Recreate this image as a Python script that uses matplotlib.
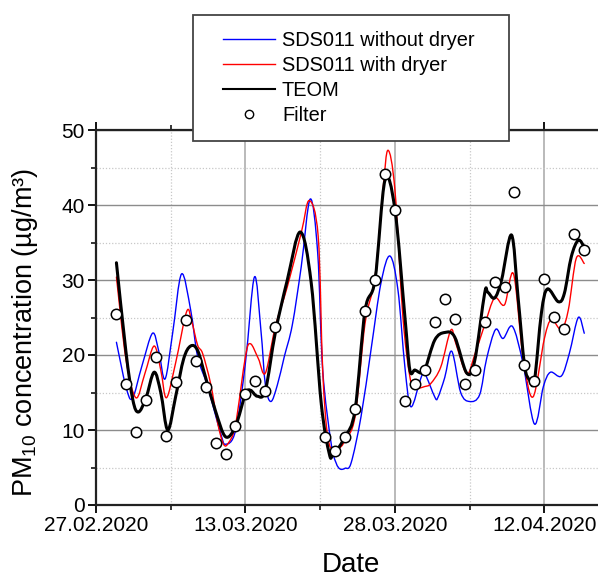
import datetime
import numpy as np
import matplotlib
matplotlib.use("Agg")
import matplotlib.pyplot as plt
import matplotlib.dates as mdates
from matplotlib.patches import Rectangle, PathPatch
from matplotlib.path import Path
from matplotlib.lines import Line2D

plt.rcParams['font.family'] = ['Liberation Sans', 'DejaVu Sans']
plt.rcParams['mathtext.fontset'] = 'custom'
plt.rcParams['mathtext.rm'] = 'Liberation Sans'
plt.rcParams['mathtext.it'] = 'Liberation Sans:italic'

start_date = datetime.date(2020, 2, 27)

# days after 27.02.2020 / PM10 in ug/m3
blue_day = [2.05, 3.0, 3.65, 4.6, 5.67, 6.3, 6.93, 7.7, 8.58, 9.5, 10.2, 11.2, 12.5, 13.0,
            14.0, 15.0, 15.9, 16.55, 17.0, 17.55, 18.2, 18.9, 19.7, 20.6, 21.5, 22.25,
            22.75, 23.6, 24.1, 24.5, 25.0, 25.6, 26.6, 27.6, 28.6, 29.5, 30.3, 31.0, 31.6,
            32.6, 33.0, 34.0, 34.3, 35.0, 35.7, 36.6, 37.5, 38.5, 39.2, 40.1, 40.85, 41.8,
            42.85, 44.0, 44.9, 45.6, 46.7, 47.5, 48.4, 49.0]
blue_val = [21.7, 15.8, 14.2, 18.5, 22.9, 20.5, 16.8, 23.0, 30.8, 26.0, 19.8, 15.8, 9.6, 8.1,
            9.9, 19.0, 30.4, 23.3, 16.0, 13.8, 16.0, 19.8, 24.0, 31.8, 40.8, 33.6,
            18.0, 8.2, 5.6, 4.8, 4.9, 5.6, 11.8, 20.7, 29.6, 33.2, 28.7, 18.4, 13.1,
            16.9, 17.5, 14.4, 14.3, 17.0, 20.5, 15.0, 13.8, 14.7, 19.5, 23.4, 22.2, 23.8,
            18.9, 10.8, 15.8, 17.7, 17.2, 20.2, 25.0, 22.9]

red_day = [2.05, 3.0, 4.0, 4.9, 5.83, 6.5, 7.07, 8.0, 9.1, 9.6, 10.2, 10.7, 11.5, 12.2,
           12.8, 13.3, 14.0, 15.0, 15.5, 16.3, 17.0, 18.0, 19.2, 20.6, 21.4, 22.3, 22.75,
           23.25, 23.9, 24.6, 25.0, 26.0, 27.0, 28.0, 28.8, 29.3, 30.0, 30.8, 31.5, 32.0,
           33.0, 33.6, 34.6, 35.6, 36.1, 37.2, 38.0, 39.0, 40.0, 41.0, 41.9, 42.85, 43.85,
           45.0, 45.7, 46.7, 47.4, 48.2, 49.0]
red_val = [30.4, 19.5, 14.3, 17.5, 21.2, 18.0, 14.3, 19.0, 25.8, 24.5, 21.3, 20.2, 16.2, 11.0,
           8.1, 8.3, 10.7, 19.8, 21.5, 19.5, 17.6, 23.8, 29.1, 36.3, 40.6, 35.8, 18.0,
           9.1, 7.3, 7.8, 8.7, 11.8, 24.2, 30.4, 42.0, 47.3, 42.0, 25.1, 17.1, 15.6,
           15.8, 16.2, 18.4, 23.3, 21.6, 17.5, 20.0, 24.0, 27.6, 26.7, 30.8, 19.8, 14.4,
           22.2, 24.7, 23.4, 26.0, 32.9, 32.2]

teom_day = [2.05, 3.0, 3.7, 4.26, 5.0, 5.83, 6.5, 7.2, 8.0, 8.8, 9.5, 10.2, 11.0, 12.0,
            13.0, 14.0, 15.0, 15.5, 16.2, 17.0, 18.0, 19.2, 20.5, 21.6, 22.6, 23.4, 23.8,
            25.0, 26.0, 27.0, 28.0, 29.0, 30.0, 31.0, 31.5, 32.0, 32.6, 33.0, 34.0, 35.0,
            36.0, 37.2, 38.0, 39.0, 39.3, 40.0, 40.7, 41.7, 42.35, 43.0, 43.5, 44.0, 44.7,
            45.3, 46.4, 47.0, 47.7, 48.4, 49.0]
teom_val = [32.3, 20.5, 14.0, 12.4, 14.2, 17.7, 15.0, 10.0, 14.5, 19.5, 21.2, 20.6, 17.0, 12.5,
            9.1, 10.5, 14.8, 15.3, 14.5, 15.3, 23.0, 30.0, 36.4, 29.6, 13.6, 6.9, 6.7,
            9.1, 12.7, 25.9, 30.0, 43.3, 39.4, 25.1, 18.0, 18.0, 17.6, 18.0, 22.0, 23.0,
            22.4, 17.6, 19.2, 28.2, 28.4, 27.6, 30.0, 36.0, 27.8, 18.7, 16.7, 16.6, 25.6,
            28.8, 27.1, 28.2, 33.1, 35.3, 34.4]

filter_day = list(range(2, 19)) + list(range(23, 50))
filter_val = [25.5, 16.1, 9.7, 14.0, 19.7, 9.2, 16.4, 24.7, 19.2, 15.8, 8.3, 6.8, 10.5,
              14.8, 16.6, 15.2, 23.7,
              9.1, 7.2, 9.1, 12.8, 25.9, 30.0, 44.2, 39.4, 13.9, 16.2, 18.0, 24.4, 27.5,
              24.8, 16.1, 18.0, 24.4, 29.8, 29.1, 41.7, 18.7, 16.6, 30.2, 25.1, 23.5,
              36.1, 34.0]

tick_days = [0, 15, 30, 45]
minor_days = [7.5, 22.5, 37.5]

base = mdates.date2num(start_date)


def to_x(days):
    return base + np.array(days, dtype=float)


def smooth_line(ax, days, vals, **kw):
    # draw a smooth curve through the points (cubic Bezier, catmull-rom tangents)
    p = np.column_stack([to_x(days), vals])
    ext = np.vstack([p[0], p, p[-1]])
    verts = [p[0]]
    codes = [Path.MOVETO]
    for i in range(len(p) - 1):
        c1 = ext[i + 1] + (ext[i + 2] - ext[i]) / 6
        c2 = ext[i + 2] - (ext[i + 3] - ext[i + 1]) / 6
        verts += [c1, c2, ext[i + 2]]
        codes += [Path.CURVE4] * 3
    patch = PathPatch(Path(verts, codes), fill=False, capstyle='round',
                      joinstyle='round', **kw)
    ax.add_patch(patch)


W, H = 598, 577
fig = plt.figure(figsize=(W / 100, H / 100), dpi=100)
ax = fig.add_axes([96 / W, (H - 505) / H, (W - 96) / W + 0.002, 375 / H])

smooth_line(ax, blue_day, blue_val, edgecolor='#0000ff', lw=1.0, zorder=3)
smooth_line(ax, red_day, red_val, edgecolor='#ff0000', lw=1.0, zorder=4)
smooth_line(ax, teom_day, teom_val, edgecolor='black', lw=2.2, zorder=5)
ax.plot(to_x(filter_day), filter_val, ls='none', marker='o', ms=7.5, mfc='white',
        mec='black', mew=1.1, zorder=6)

ax.set_xlim(base, base + 50.5)
ax.set_ylim(0, 50)
ax.set_xticks(to_x(tick_days))
ax.set_xticks(to_x(minor_days), minor=True)
ax.xaxis.set_major_formatter(mdates.DateFormatter('%d.%m.%Y'))
ax.set_yticks(range(0, 51, 10))
ax.set_yticks(range(5, 50, 10), minor=True)

ax.grid(True, which='major', axis='y', color='#8c8c8c', lw=1.0)
ax.grid(True, which='major', axis='x', color='#b4b4b4', lw=1.3)
ax.grid(True, which='minor', color='#c8c8c8', lw=0.9, ls=(0, (1, 1.5)))
ax.set_axisbelow(True)

for s in ['left', 'bottom', 'top']:
    ax.spines[s].set_linewidth(1.6)
    ax.spines[s].set_color('#222222')
ax.spines['right'].set_visible(False)

ax.tick_params(which='major', direction='out', length=6, width=1.3, labelsize=15,
               top=True, pad=2)
ax.tick_params(which='minor', direction='out', length=3.5, width=1.1, top=True)
ax.tick_params(axis='y', which='both', right=False)

ax.set_xlabel('Date', fontsize=20)
ax.xaxis.set_label_coords(0.506, -0.125)
ax.set_ylabel('PM$_{10}$ concentration (µg/m³)', fontsize=19.5)
ax.yaxis.set_label_coords(-0.112, 0.461)

# legend box
rect = Rectangle((193 / W, 1 - 141 / H), (509 - 193) / W, (141 - 15) / H,
                 transform=fig.transFigure, facecolor='white', edgecolor='#444444',
                 lw=1.3, zorder=10)
fig.patches.append(rect)

handles = [Line2D([], [], color='#0000ff', lw=1.0),
           Line2D([], [], color='#ff0000', lw=1.0),
           Line2D([], [], color='black', lw=1.5),
           Line2D([], [], ls='none', marker='o', ms=6, mfc='white', mec='black', mew=1.0)]
labels = ['SDS011 without dryer', 'SDS011 with dryer', 'TEOM', 'Filter']
leg = fig.legend(handles, labels, loc='upper left',
                 bbox_to_anchor=(223 / W, 1 - 31 / H), frameon=False, fontsize=14.4,
                 handlelength=2.6, handletextpad=0.35, labelspacing=0.3,
                 borderpad=0, borderaxespad=0)
leg.set_zorder(11)

fig.savefig('out.png', dpi=100)
